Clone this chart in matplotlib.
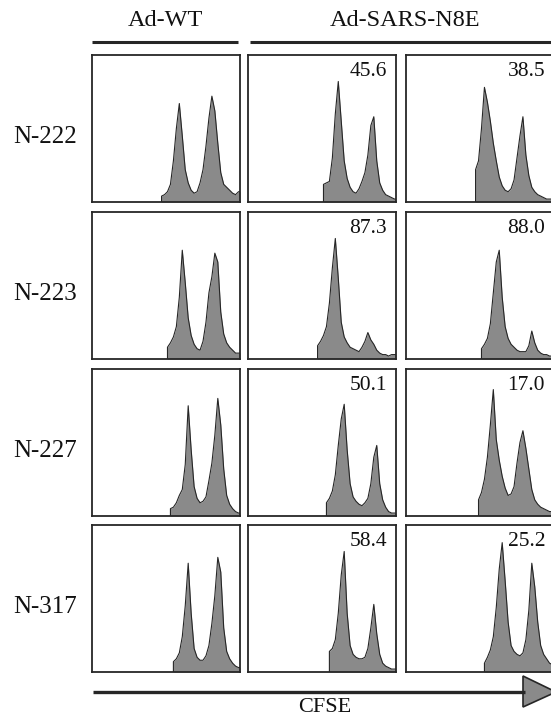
import numpy as np
import matplotlib
matplotlib.use("Agg")
import matplotlib.pyplot as plt
from matplotlib.patches import Polygon

plt.rcParams['font.family'] = ['Liberation Serif', 'DejaVu Serif']

# CFSE channel, expressed as % of the plotted range; 2-unit bins (centres)
cfse_centres = np.arange(1, 100, 2)

row_labels = ["N-222", "N-223", "N-227", "N-317"]
group_labels = ["Ad-WT", "Ad-SARS-N8E"]

# percent of cells in undivided peak (shown on N8E panels)
pct_n8e_1 = ["45.6", "87.3", "50.1", "58.4"]
pct_n8e_2 = ["38.5", "88.0", "17.0", "25.2"]

# bin counts (% of panel height)
wt_222 = [0]*23 + [4, 5, 7, 12, 28, 50, 67, 45, 22, 13, 8, 6, 7, 13, 22, 38, 57, 72, 62, 40,
                   20, 12, 10, 8, 6, 5, 7]
wt_223 = [0]*25 + [8, 11, 15, 22, 42, 74, 52, 28, 16, 10, 7, 6, 12, 25, 45, 56, 72, 66, 32,
                   17, 11, 8, 6, 4, 4]
wt_227 = [0]*26 + [5, 6, 9, 14, 18, 35, 75, 45, 20, 12, 9, 10, 13, 24, 36, 55, 80, 62, 32,
                   14, 8, 5, 3, 2]
wt_317 = [0]*27 + [7, 9, 13, 24, 45, 74, 40, 16, 10, 8, 8, 11, 18, 33, 52, 78, 68, 30, 14,
                   9, 6, 4, 3]

n8e1_222 = [0]*25 + [12, 13, 14, 30, 60, 82, 55, 28, 16, 10, 7, 6, 9, 14, 20, 32, 52, 58, 28,
                     13, 8, 5, 4, 3, 2]
n8e1_223 = [0]*23 + [9, 12, 16, 22, 38, 62, 82, 55, 25, 15, 11, 8, 7, 6, 5, 8, 12, 18, 13,
                     10, 6, 4, 3, 3, 2, 3, 3]
n8e1_227 = [0]*26 + [9, 12, 17, 28, 48, 66, 76, 45, 22, 13, 10, 8, 7, 9, 12, 22, 40, 48, 22,
                     11, 6, 3, 2, 2]
n8e1_317 = [0]*27 + [14, 16, 22, 40, 66, 82, 40, 18, 12, 10, 9, 9, 10, 16, 30, 46, 26, 12,
                     6, 4, 3, 2, 2]

n8e2_222 = [0]*23 + [22, 28, 50, 78, 68, 55, 40, 28, 17, 11, 8, 7, 9, 15, 30, 45, 58, 32, 18,
                     10, 7, 5, 4, 3, 2, 2, 2]
n8e2_223 = [0]*25 + [7, 10, 14, 24, 45, 66, 74, 42, 22, 14, 10, 8, 6, 5, 5, 5, 9, 19, 11,
                     6, 4, 3, 3, 2, 2]
n8e2_227 = [0]*24 + [11, 16, 25, 40, 62, 86, 52, 38, 27, 19, 14, 15, 20, 36, 50, 58, 46, 32,
                     18, 11, 8, 6, 5, 4, 3, 3]
n8e2_317 = [0]*26 + [6, 10, 15, 24, 44, 70, 88, 62, 34, 18, 14, 12, 11, 13, 22, 42, 74, 58,
                     34, 18, 12, 9, 6, 5]

panels = [
    [wt_222, n8e1_222, n8e2_222],
    [wt_223, n8e1_223, n8e2_223],
    [wt_227, n8e1_227, n8e2_227],
    [wt_317, n8e1_317, n8e2_317],
]
labels = [[None, a, b] for a, b in zip(pct_n8e_1, pct_n8e_2)]

W, H = 551, 719
fig = plt.figure(figsize=(W / 100, H / 100), dpi=100)
fig.patch.set_facecolor('white')

col_left = [92, 248, 406]
row_top = [55, 212, 369, 525]
pw, ph = 148, 147
ink = '#262626'
fill = '#8a8a8a'

for r in range(4):
    for c in range(3):
        x0, y0 = col_left[c], row_top[r]
        ax = fig.add_axes([x0 / W, 1 - (y0 + ph) / H, pw / W, ph / H])
        vals = np.array(panels[r][c], dtype=float)
        on = vals > 0
        xs = cfse_centres[on]
        ys = vals[on]
        # gate edge: histogram starts abruptly at the first counted channel
        xs = np.concatenate([[xs[0]], xs, [100]])
        ys = np.concatenate([[0], ys, [ys[-1]]])
        ax.fill_between(xs, 0, ys, color=fill, lw=0)
        ax.plot(xs, ys, color=ink, lw=0.8)
        ax.set_xlim(0, 100)
        ax.set_ylim(0, 100)
        ax.set_xticks([])
        ax.set_yticks([])
        for s in ax.spines.values():
            s.set_color(ink)
            s.set_linewidth(1.3)
        if labels[r][c]:
            ax.text(0.94, 0.95, labels[r][c], transform=ax.transAxes, ha='right',
                    va='top', fontsize=15.5, color='#111111')
    fig.text(45 / W, 1 - (row_top[r] + 82) / H, row_labels[r], ha='center',
             va='center', fontsize=18, color='#111111')

# overlay in pixel coordinates for header bars and the CFSE arrow
ov = fig.add_axes([0, 0, 1, 1], zorder=5)
ov.set_xlim(0, W)
ov.set_ylim(H, 0)
ov.axis('off')
ov.patch.set_alpha(0)

ov.plot([92, 238], [42, 42], color=ink, lw=2.2, solid_capstyle='butt')
ov.plot([250, W], [42, 42], color=ink, lw=2.2, solid_capstyle='butt')
ov.text(165, 21, group_labels[0], ha='center', va='center', fontsize=17.5, color='#111111')
ov.text(405, 21, group_labels[1], ha='center', va='center', fontsize=17.5, color='#111111')

ov.plot([93, 525], [692, 692], color=ink, lw=2.4, solid_capstyle='butt')
ov.add_patch(Polygon([[523, 676], [556, 692], [523, 707]], closed=True,
                     facecolor=fill, edgecolor=ink, lw=1.2))
ov.text(325, 717, "CFSE", ha='center', va='bottom', fontsize=16, color='#111111')

fig.savefig("out.png", dpi=100, facecolor='white')
